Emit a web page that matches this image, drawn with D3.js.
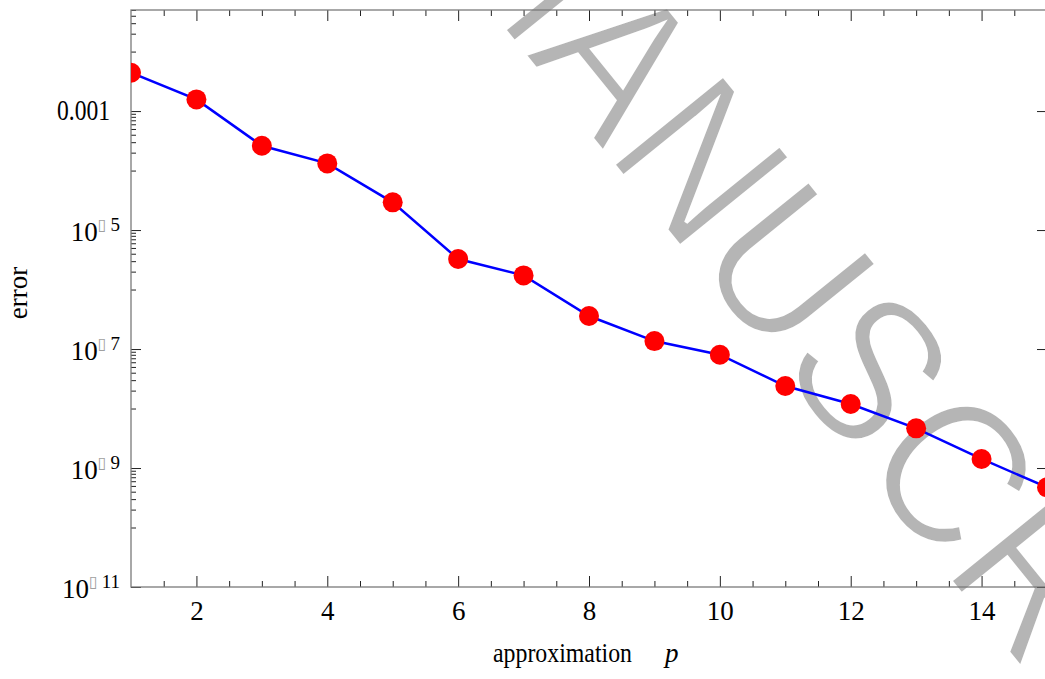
<!DOCTYPE html>
<html>
<head>
<meta charset="utf-8">
<script src="https://cdn.jsdelivr.net/npm/d3@7"></script>
<style>
body { margin: 0; background: #fff; }
#chart { width: 1045px; height: 679px; overflow: hidden; }
.lbl { font-family: "Liberation Serif", "Times New Roman", serif; fill: #000; }
</style>
</head>
<body>
<div id="chart"></div>
<script>
// approximation order p and its error
var orders = [1, 2, 3, 4, 5, 6, 7, 8, 9, 10, 11, 12, 13, 14, 15];
var errors = [4.41e-3, 1.57e-3, 2.61e-4, 1.32e-4, 2.92e-5, 3.26e-6, 1.73e-6,
              3.59e-7, 1.36e-7, 8.02e-8, 2.39e-8, 1.19e-8, 4.65e-9, 1.42e-9, 4.74e-10];

var xTicks = [2, 4, 6, 8, 10, 12, 14];
var xMinorTicks = [1.5, 2.5, 3, 3.5, 4.5, 5, 5.5, 6.5, 7, 7.5, 8.5, 9, 9.5,
                   10.5, 11, 11.5, 12.5, 13, 13.5, 14.5];
var yTicks = [1e-3, 1e-5, 1e-7, 1e-9, 1e-11];
var yTickBase = ["0.001", "10", "10", "10", "10"];
var yTickExp = ["", "5", "7", "9", "11"];

var margin = {top: 10, right: -2, bottom: 92, left: 131},
    W = 1045, H = 679,
    width = W - margin.left - margin.right,
    height = H - margin.top - margin.bottom;

var x = d3.scaleLinear().domain([1, 15]).range([0, width]);
var y = d3.scaleLog().domain([1e-11, 0.05]).range([height, 0]);

// minor log ticks: k * 10^(n-1) under each labelled decade 10^n
var yMinorTicks = [];
[-1, -3, -5, -7, -9].forEach(function(n) {
    for (var k = 1; k <= 9; k++) {
        var v = k * Math.pow(10, n - 1);
        if (v <= 0.05) yMinorTicks.push(v);
    }
});

var svg = d3.select("#chart").append("svg")
    .attr("width", W)
    .attr("height", H);

svg.append("rect").attr("width", W).attr("height", H).attr("fill", "#fff");

// watermark, behind everything
svg.append("text")
    .attr("transform", "translate(425,-68) rotate(51)")
    .attr("textLength", 1250)
    .attr("lengthAdjust", "spacingAndGlyphs")
    .style("font-family", "'Liberation Sans', Arial, sans-serif")
    .style("font-size", "206px")
    .attr("fill", "#b5b5b5")
    .attr("stroke", "#fff")
    .attr("stroke-width", 4)
    .text("MANUSCRIPT");

var g = svg.append("g")
    .attr("transform", "translate(" + margin.left + "," + margin.top + ")");

g.append("clipPath").attr("id", "clip")
  .append("rect").attr("width", width).attr("height", height);

// ticks on all four sides
function styleAxis(sel) {
    sel.select(".domain").remove();
    sel.selectAll(".tick line").attr("stroke", "#222").attr("stroke-width", 1);
}

g.append("g")
    .attr("transform", "translate(0," + height + ")")
    .call(d3.axisBottom(x).tickValues(xMinorTicks).tickSize(-6).tickFormat(""))
    .call(styleAxis);

var xAxis = g.append("g")
    .attr("transform", "translate(0," + height + ")")
    .call(d3.axisBottom(x).tickValues(xTicks).tickSize(-11).tickPadding(14))
    .call(styleAxis);
xAxis.selectAll("text")
    .attr("class", "lbl")
    .attr("font-family", null)
    .style("font-size", "27px");

g.append("g")
    .call(d3.axisTop(x).tickValues(xMinorTicks).tickSize(-6).tickFormat(""))
    .call(styleAxis);
g.append("g")
    .call(d3.axisTop(x).tickValues(xTicks).tickSize(-11).tickFormat(""))
    .call(styleAxis);

g.append("g")
    .call(d3.axisLeft(y).tickValues(yMinorTicks).tickSize(-5).tickFormat(""))
    .call(styleAxis);
g.append("g")
    .call(d3.axisLeft(y).tickValues(yTicks).tickSize(-10).tickFormat(""))
    .call(styleAxis);
g.append("g")
    .attr("transform", "translate(" + width + ",0)")
    .call(d3.axisRight(y).tickValues(yTicks).tickSize(-10).tickFormat(""))
    .call(styleAxis);

// y tick labels: 10, a missing-glyph box for the minus, raised exponent
yTicks.forEach(function(v, i) {
    var ty = y(v);
    if (yTickExp[i] == "") {
        g.append("text")
            .attr("class", "lbl")
            .attr("text-anchor", "end")
            .attr("x", -21).attr("y", ty + 9)
            .attr("textLength", 53)
            .attr("lengthAdjust", "spacingAndGlyphs")
            .style("font-size", "29px")
            .text(yTickBase[i]);
        return;
    }
    var t = g.append("text")
        .attr("class", "lbl")
        .attr("text-anchor", "end")
        .attr("x", -11).attr("y", ty + 11)
        .style("font-size", "27px");
    t.append("tspan").text(yTickBase[i]);
    t.append("tspan")
        .attr("dy", -11)
        .style("font-family", "'DejaVu Sans', sans-serif")
        .style("font-size", "16px")
        .attr("fill", "#a0a0a0")
        .text("\u25AF");
    t.append("tspan")
        .attr("dx", 4)
        .attr("dy", 1)
        .style("font-size", "19px")
        .text(yTickExp[i]);
});

// frame
g.append("rect")
    .attr("width", width)
    .attr("height", height)
    .attr("fill", "none")
    .attr("stroke", "#7a7a7a")
    .attr("stroke-width", 1.3);

// data
var line = d3.line()
    .x(function(d, i) { return x(orders[i]); })
    .y(function(d) { return y(d); });

var plot = g.append("g").attr("clip-path", "url(#clip)");

plot.append("path")
    .datum(errors)
    .attr("fill", "none")
    .attr("stroke", "#0000ff")
    .attr("stroke-width", 2.5)
    .attr("d", line);

plot.selectAll(".dot")
    .data(errors)
    .enter().append("circle")
    .attr("class", "dot")
    .attr("cx", function(d, i) { return x(orders[i]); })
    .attr("cy", function(d) { return y(d); })
    .attr("r", 10)
    .attr("fill", "#ff0000");

// axis titles
svg.append("text")
    .attr("class", "lbl")
    .attr("x", 493)
    .attr("y", 662)
    .attr("textLength", 139)
    .attr("lengthAdjust", "spacingAndGlyphs")
    .style("font-size", "27px")
    .text("approximation");
svg.append("text")
    .attr("class", "lbl")
    .attr("x", 665)
    .attr("y", 662)
    .style("font-size", "27px")
    .style("font-style", "italic")
    .text("p");

svg.append("text")
    .attr("class", "lbl")
    .attr("transform", "translate(27,293) rotate(-90)")
    .attr("text-anchor", "middle")
    .style("font-size", "27px")
    .text("error");
</script>
</body>
</html>
